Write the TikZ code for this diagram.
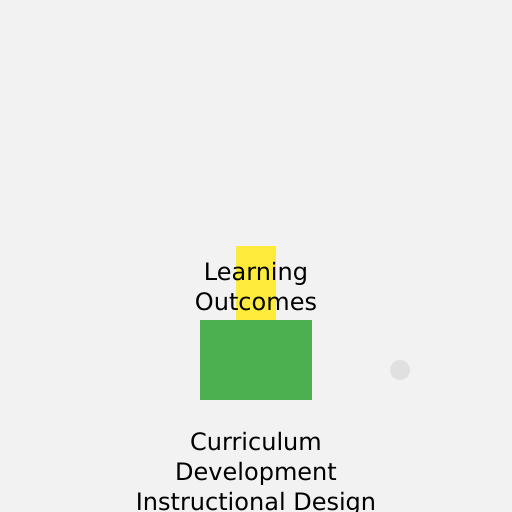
\documentclass[tikz,border=0pt]{standalone}
\usepackage{fontspec}
\setmainfont{DejaVu Sans}
\definecolor{bg}{HTML}{F2F2F2}
\definecolor{yel}{HTML}{FFEB3B}
\definecolor{grn}{HTML}{4CAF50}
\definecolor{dot}{HTML}{E0E0E0}
\begin{document}
\begin{tikzpicture}[x=1pt,y=-1pt,
  lbl/.style={anchor=base,inner sep=0pt,font=\fontsize{24}{30}\selectfont,text=black}]
\fill[bg] (0,0) rectangle (512,512);
\useasboundingbox (0,0) rectangle (512,512);
\fill[yel] (236,246) rectangle (276,320);
\fill[grn] (200,320) rectangle (312,400);
\fill[dot] (400,370) circle (10);
\node[lbl] (lo1) at (256,280) {Learning};
\node[lbl] (lo2) at (256,310) {Outcomes};
\node[lbl] (cd1) at (256,450) {Curriculum};
\node[lbl] (cd2) at (256,480) {Development};
\node[lbl] (cd3) at (256,510) {Instructional Design};
\end{tikzpicture}
\end{document}
